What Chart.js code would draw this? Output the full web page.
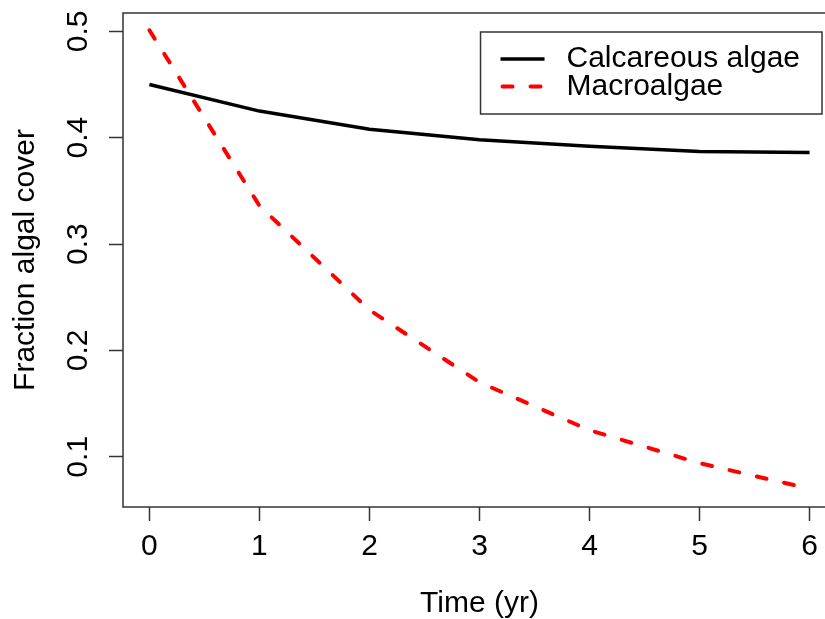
<!DOCTYPE html>
<html>
<head>
<meta charset="utf-8">
<script src="https://cdn.jsdelivr.net/npm/chart.js@4"></script>
<style>
  html, body { margin: 0; padding: 0; background: #fff; overflow: hidden; }
  /* plot is a bit wider than the window, the right edge is cut like in the original */
  #wrap { position: relative; width: 837px; height: 619px; }
</style>
</head>
<body>
<div id="wrap"><canvas id="algaeChart"></canvas></div>
<script>
// ------------------- Data -------------------//
var years = [0, 1, 2, 3, 4, 5, 6];
var calcareous = [0.450, 0.425, 0.408, 0.398, 0.392, 0.387, 0.386];
var macroalgae = [0.501, 0.336, 0.238, 0.170, 0.125, 0.094, 0.070];
var xTicks = [0, 1, 2, 3, 4, 5, 6];
var yTicks = [0.1, 0.2, 0.3, 0.4, 0.5];

var FONT = '"Liberation Sans", Arial, Helvetica, sans-serif';
var AXIS_COLOR = '#333';

function toPoints(xs, ys) {
  return xs.map(function (x, i) { return { x: x, y: ys[i] }; });
}

// ------------------- R style box + legend -------------------//
var boxPlugin = {
  id: 'box',
  afterDraw: function (chart) {
    var a = chart.chartArea, ctx = chart.ctx;
    ctx.save();
    ctx.strokeStyle = AXIS_COLOR;
    ctx.lineWidth = 1.5;
    ctx.strokeRect(a.left, a.top, a.right - a.left, a.bottom - a.top);
    ctx.restore();
  }
};

var legendBoxPlugin = {
  id: 'legendBox',
  afterDraw: function (chart) {
    var ctx = chart.ctx, a = chart.chartArea;
    var sets = chart.data.datasets;
    ctx.save();
    ctx.font = '30px ' + FONT;
    var widest = 0;
    sets.forEach(function (d) { widest = Math.max(widest, ctx.measureText(d.label).width); });
    var w = 86 + widest + 22, h = 82;
    var left = a.right - 14 - w, top = a.top + 19;
    ctx.strokeStyle = AXIS_COLOR;
    ctx.lineWidth = 1.5;
    ctx.strokeRect(left, top, w, h);
    sets.forEach(function (d, i) {
      var y = top + 27 + i * 27.5;
      ctx.beginPath();
      ctx.setLineDash(d.borderDash || []);
      ctx.lineCap = d.borderCapStyle || 'butt';
      ctx.strokeStyle = d.borderColor;
      ctx.lineWidth = d.borderWidth;
      ctx.moveTo(left + 20 + (d.borderDash ? 2 : 0), y);
      ctx.lineTo(left + 64, y);
      ctx.stroke();
      ctx.setLineDash([]);
      ctx.fillStyle = '#000';
      ctx.textBaseline = 'middle';
      ctx.textAlign = 'left';
      ctx.fillText(d.label, left + 86, y);
    });
    ctx.restore();
  }
};

// ------------------- Chart -------------------//
var ctx = document.getElementById('algaeChart');
var algaeChart = new Chart(ctx, {
  type: 'line',
  data: {
    datasets: [{
      label: 'Calcareous algae',
      data: toPoints(years, calcareous),
      borderColor: '#000',
      borderWidth: 3.5,
      pointRadius: 0,
      tension: 0
    }, {
      label: 'Macroalgae',
      data: toPoints(years, macroalgae),
      borderColor: '#ff0000',
      borderWidth: 4,
      borderDash: [10, 18],
      borderCapStyle: 'round',
      pointRadius: 0,
      tension: 0
    }]
  },
  options: {
    responsive: true,
    maintainAspectRatio: false,
    animation: false,
    layout: { padding: { top: 13, right: 1, bottom: 0, left: 0 } },
    plugins: { legend: { display: false }, tooltip: { enabled: false } },
    scales: {
      x: {
        type: 'linear',
        min: -0.24,
        max: 6.24,
        afterBuildTicks: function (s) { s.ticks = xTicks.map(function (v) { return { value: v }; }); },
        afterFit: function (s) { s.height = 112; s.paddingLeft = 0; s.paddingRight = 0; },
        grid: { drawOnChartArea: false, tickLength: 14, tickColor: AXIS_COLOR, tickWidth: 1.5 },
        border: { display: false },
        ticks: {
          font: { family: FONT, size: 30 }, color: '#000', padding: 8,
          maxRotation: 0, callback: function (v) { return String(v); }
        },
        title: {
          display: true, text: 'Time (yr)', color: '#000',
          font: { family: FONT, size: 30 }, padding: { top: 0, bottom: -3 }
        }
      },
      y: {
        type: 'linear',
        min: 0.0528,
        max: 0.5172,
        afterBuildTicks: function (s) { s.ticks = yTicks.map(function (v) { return { value: v }; }); },
        afterFit: function (s) { s.width = 123; s.paddingTop = 0; s.paddingBottom = 0; },
        grid: { drawOnChartArea: false, tickLength: 14, tickColor: AXIS_COLOR, tickWidth: 1.5 },
        border: { display: false },
        ticks: {
          font: { family: FONT, size: 30 }, color: '#000', padding: 9,
          minRotation: 90, maxRotation: 90, crossAlign: 'center',
          callback: function (v) { return String(v); }
        },
        title: {
          display: true, text: 'Fraction algal cover', color: '#000',
          font: { family: FONT, size: 30 }, padding: { top: 8, bottom: 0 }
        }
      }
    }
  },
  plugins: [boxPlugin, legendBoxPlugin]
});
</script>
</body>
</html>
